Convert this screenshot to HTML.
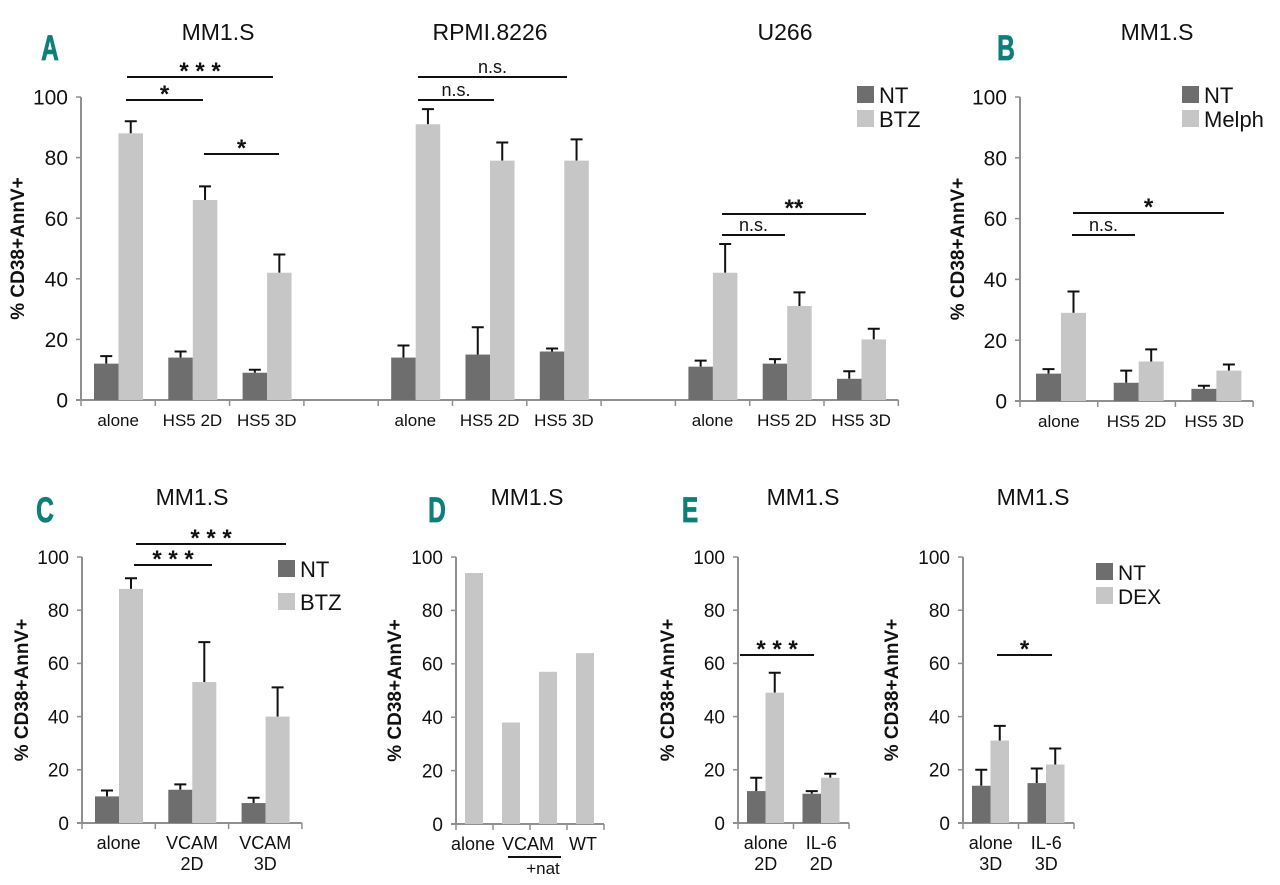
<!DOCTYPE html>
<html><head><meta charset="utf-8"><style>
html,body{margin:0;padding:0;background:#fff;}
svg{display:block;font-family:"Liberation Sans",Arial,sans-serif;}
</style></head><body>
<svg id="fig" width="1280" height="885" viewBox="0 0 1280 885" xmlns="http://www.w3.org/2000/svg"></svg>
<script>
// ---- data ----
const aCategories = ["alone","HS5 2D","HS5 3D","","alone","HS5 2D","HS5 3D","","alone","HS5 2D","HS5 3D"];
const aNT      = [12,14,9,null,14,15,16,null,11,12,7];
const aNTErr   = [2.5,2,1,null,4,9,1,null,2,1.5,2.5];
const aBTZ     = [88,66,42,null,91,79,79,null,42,31,20];
const aBTZErr  = [4,4.5,6,null,5,6,7,null,9.5,4.5,3.5];
const bCategories = ["alone","HS5 2D","HS5 3D"];
const bNT      = [9,6,4];
const bNTErr   = [1.5,4,1];
const bMelph   = [29,13,10];
const bMelphErr= [7,4,2];
const cCategories = [["alone"],["VCAM","2D"],["VCAM","3D"]];
const cNT      = [10,12.5,7.5];
const cNTErr   = [2.2,2,2];
const cBTZ     = [88,53,40];
const cBTZErr  = [4,15,11];
const dCategories = ["alone","VCAM","VCAM","WT"];
const dValues  = [94,38,57,64];
const e1Categories = [["alone","2D"],["IL-6","2D"]];
const e1NT     = [12,11];
const e1NTErr  = [5,1];
const e1DEX    = [49,17];
const e1DEXErr = [7.5,1.5];
const e2Categories = [["alone","3D"],["IL-6","3D"]];
const e2NT     = [14,15];
const e2NTErr  = [6,5.5];
const e2DEX    = [31,22];
const e2DEXErr = [5.5,6];
const yTicks = [0,20,40,60,80,100];

const NS="http://www.w3.org/2000/svg";
const svg=document.getElementById('fig');
const DARK="#6e6e6e", LIGHT="#c6c6c6", AXIS="#8f8f8f", TEAL="#0e7f78";
function mk(tag,attrs,parent){const e=document.createElementNS(NS,tag);for(const k in attrs)e.setAttribute(k,attrs[k]);(parent||svg).appendChild(e);return e;}
function txt(s,x,y,size,anchor,parent,extra){const t=mk('text',Object.assign({x:x,y:y,'font-size':size,'text-anchor':anchor||'middle',fill:'#111'},extra||{}),parent);t.textContent=s;return t;}

function axes(g,cfg,nCats,catLabels){
  const ys=v=>cfg.y0-(cfg.y0-cfg.y100)*v/100;
  const ax=mk('line',{x1:cfg.x0,y1:cfg.y100,x2:cfg.x0,y2:cfg.y0,stroke:AXIS,'stroke-width':2},g);
  
  const xend=cfg.x0+cfg.catW*nCats;
  const xa=mk('line',{x1:cfg.x0-5,y1:cfg.y0,x2:xend,y2:cfg.y0,stroke:AXIS,'stroke-width':2},g);
  
  const ts=cfg.tickSize||19;
  yTicks.forEach(v=>{
    mk('line',{x1:cfg.x0-5,y1:ys(v),x2:cfg.x0,y2:ys(v),stroke:AXIS,'stroke-width':1.5},g);
    const t=txt(String(v),cfg.x0-13,ys(v)+ts*0.36,ts,'end',g);
    
    
  });
  for(let i=0;i<=nCats;i++){
    mk('line',{x1:cfg.x0+cfg.catW*i,y1:cfg.y0,x2:cfg.x0+cfg.catW*i,y2:cfg.y0+6,stroke:AXIS,'stroke-width':1.5},g);
  }
  catLabels.forEach((lab,i)=>{
    const lines=Array.isArray(lab)?lab:[lab];
    lines.forEach((s,j)=>{
      if(!s)return;
      const t=txt(s,cfg.x0+cfg.catW*(i+0.5),cfg.y0+26+j*21,cfg.lblSize||17,'middle',g);
      
      
    });
  });
  const yt=txt('% CD38+AnnV+',0,0,19,'middle',g,{'font-weight':'bold',transform:`translate(${cfg.ytx},${(cfg.y0+cfg.y100)/2}) rotate(-90)`});
  
  return ys;
}
function bars(g,cfg,ys,vals,errs,idx,color,name){
  vals.forEach((v,i)=>{
    if(v===null)return;
    const x=cfg.x0+cfg.catW*i+cfg.off+idx*cfg.barW;
    if(errs){
      const top=ys(v+errs[i]);const cx=x+cfg.barW/2;
      const el=mk('path',{d:`M${cx},${ys(v)}V${top}M${cx-6},${top}H${cx+6}`,stroke:'#111','stroke-width':2,fill:'none'},g);
      
    }
    const r=mk('rect',{x:x,y:ys(v),width:cfg.barW,height:ys(0)-ys(v),fill:color},g);
    
  });
}
function sig(g,x1,x2,y,label){
  const l=mk('line',{x1:x1,y1:y,x2:x2,y2:y,stroke:'#111','stroke-width':2},g);
  
  const isStar=label.indexOf('*')>=0;
  const t=txt(label,(x1+x2)/2,isStar?y+2:y-4,isStar?24:18,'middle',g,isStar?{'font-weight':'bold'}:{});
  
}
function legend(g,x,y,labels,gap,size){
  labels.forEach((s,i)=>{
    const r=mk('rect',{x:x,y:y+i*gap,width:17,height:17,fill:i?LIGHT:DARK},g);
    
    const t=txt(s,x+22,y+i*gap+17,size||21,'start',g);
    
  });
}
function letter(s,x,y){
  const t=txt(s,0,0,35,'middle',svg,{fill:TEAL,'font-weight':'bold',stroke:TEAL,'stroke-width':0.8,transform:`translate(${x},${y}) scale(0.7,1)`});
  
}
function title(s,x,y){const t=txt(s,x,y,23,'middle');}

// Panel A
let g=mk('g',{});
let cfg={x0:81,y0:400,y100:97,catW:74.3,off:13,barW:24.5,ytx:24,tickSize:21};
let ys=axes(g,cfg,11,aCategories);
bars(g,cfg,ys,aNT,aNTErr,0,DARK,'nt');bars(g,cfg,ys,aBTZ,aBTZErr,1,LIGHT,'btz');
sig(g,127,273,77,'* * *');sig(g,126,203,100,'*');sig(g,204,279,154,'*');
sig(g,418,567,77,'n.s.');sig(g,418,494,100,'n.s.');
sig(g,722,866,214,'**');sig(g,722,785,235,'n.s.');
legend(g,857,86,['NT','BTZ'],24,22);
letter('A',50,60);title('MM1.S',218,40);title('RPMI.8226',490,40);title('U266',785,40);

// Panel B
g=mk('g',{});
cfg={x0:1020,y0:401,y100:97,catW:77.7,off:16,barW:25,ytx:964,tickSize:21};
ys=axes(g,cfg,3,bCategories);
bars(g,cfg,ys,bNT,bNTErr,0,DARK,'nt');bars(g,cfg,ys,bMelph,bMelphErr,1,LIGHT,'melph');
sig(g,1073,1224,213,'*');sig(g,1072,1135,235,'n.s.');
legend(g,1182,86,['NT','Melph'],24,22);
letter('B',1006,60);title('MM1.S',1157,40);

// Panel C
g=mk('g',{});
cfg={x0:82,y0:823,y100:557,catW:73.3,off:13,barW:24,ytx:28,lblSize:18};
ys=axes(g,cfg,3,cCategories);
bars(g,cfg,ys,cNT,cNTErr,0,DARK,'nt');bars(g,cfg,ys,cBTZ,cBTZErr,1,LIGHT,'btz');
sig(g,136,286,544,'* * *');sig(g,134,212,565,'* * *');
legend(g,278,560,['NT',' BTZ'],33,22);
letter('C',45,522);title('MM1.S',192,505);

// Panel D
g=mk('g',{});
cfg={x0:456,y0:824,y100:557,catW:37,off:9,barW:18,ytx:401,lblSize:18};
ys=axes(g,cfg,4,['','','','']);
bars(g,cfg,ys,dValues,null,0,LIGHT,'value');
[[473,'alone'],[528,'VCAM'],[583,'WT']].forEach(p=>{const t=txt(p[1],p[0],850,18,'middle',g);});
mk('line',{x1:508,y1:857,x2:561,y2:857,stroke:'#111','stroke-width':2},g);
let tn=txt('+nat',543,874,17,'middle',g);
letter('D',437,522);title('MM1.S',527,505);

// Panel E1
g=mk('g',{});
cfg={x0:738,y0:823,y100:557,catW:55.5,off:9,barW:18.5,ytx:674,lblSize:18};
ys=axes(g,cfg,2,e1Categories);
bars(g,cfg,ys,e1NT,e1NTErr,0,DARK,'nt');bars(g,cfg,ys,e1DEX,e1DEXErr,1,LIGHT,'dex');
sig(g,740,814,655,'* * *');
letter('E',690,522);title('MM1.S',803,505);

// Panel E2
g=mk('g',{});
cfg={x0:963,y0:823,y100:557,catW:55.5,off:9,barW:18.5,ytx:898,lblSize:18};
ys=axes(g,cfg,2,e2Categories);
bars(g,cfg,ys,e2NT,e2NTErr,0,DARK,'nt');bars(g,cfg,ys,e2DEX,e2DEXErr,1,LIGHT,'dex');
sig(g,997,1052,655,'*');
legend(g,1096,563,['NT','DEX'],24,21);
title('MM1.S',1033,505);
</script>
</body></html>
